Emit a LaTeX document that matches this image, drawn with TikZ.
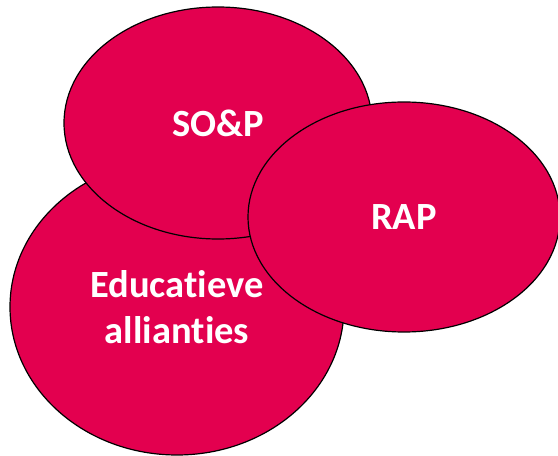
\documentclass[tikz,border=0pt]{standalone}
\usepackage{fontspec}
\setmainfont{Carlito}[Ligatures=NoCommon]
\usepackage{tikz}
\usetikzlibrary{shapes.geometric}
\definecolor{crimson}{HTML}{E3004F}
\tikzset{
  blob/.style={ellipse,draw=black,line width=1.2pt,fill=crimson,inner sep=0pt,
    text=white,align=center,font=\fontsize{38.5}{46}\selectfont\bfseries}
}

\begin{document}
\begin{tikzpicture}[x=1pt,y=1pt]
  \useasboundingbox (0,0) rectangle (558,456);
  \node[blob,minimum width=334,minimum height=296] (edu) at (177,149) {Educatieve\\allianties};
  \node[blob,minimum width=308,minimum height=232] (sop) at (218,333) {SO\&P};
  \node[blob,minimum width=312,minimum height=230] (rap) at (404,239) {RAP};
\end{tikzpicture}
\end{document}
